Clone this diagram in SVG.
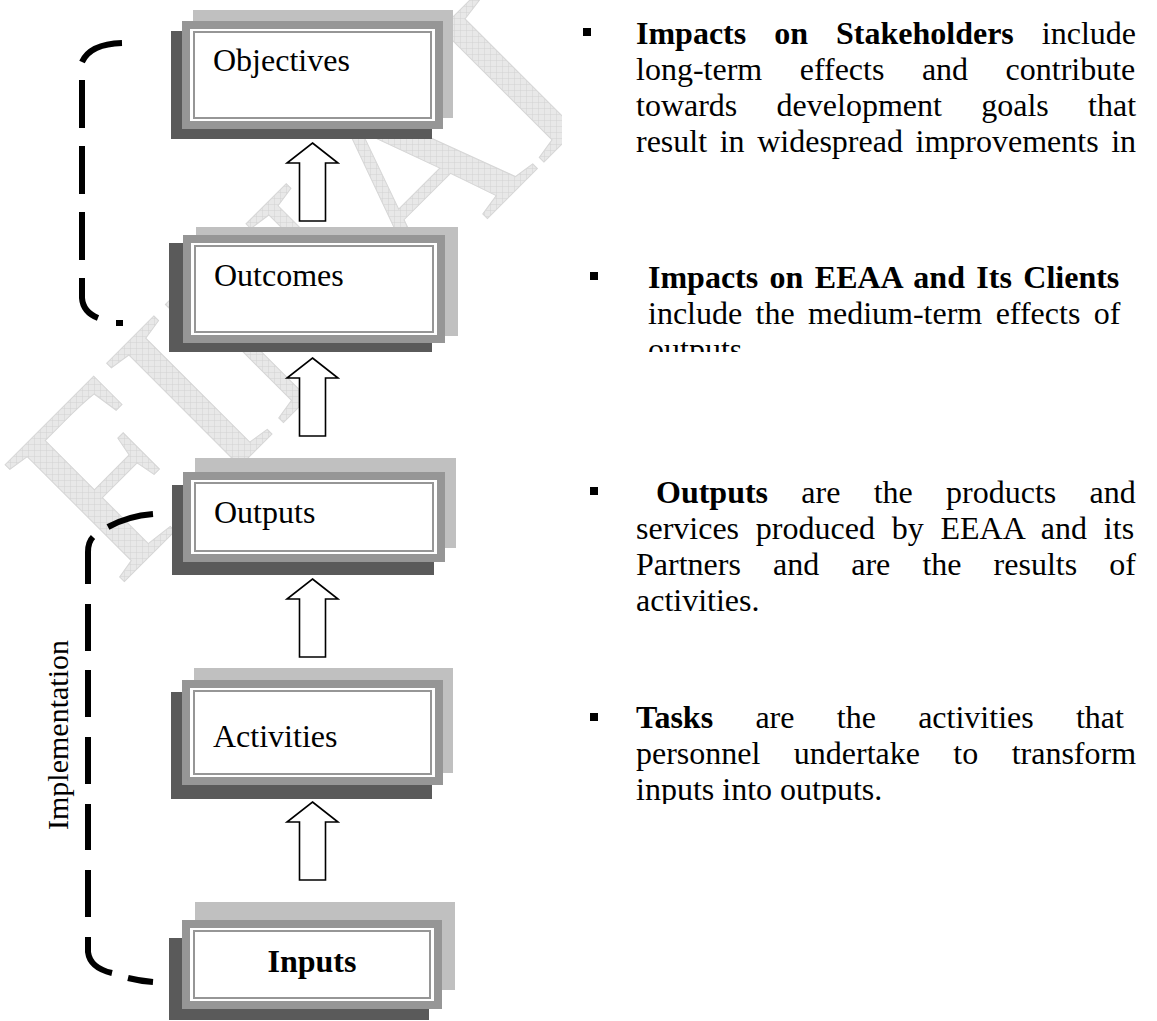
<svg xmlns="http://www.w3.org/2000/svg" width="1157" height="1021" viewBox="0 0 1157 1021">
<defs>
<style>
.lt{fill:#c0c0c0}.md{fill:#969696}.dk{fill:#5a5a5a}.wh{fill:#fff}
.ln{fill:none;stroke:#969696;stroke-width:2}
.lbl{font-family:"Liberation Serif","Times New Roman",serif;font-size:32px;fill:#000}
.body{font-family:"Liberation Serif","Times New Roman",serif;font-size:32px;fill:#000}
.b{font-weight:bold}
.arrow{fill:#fff;stroke:#000;stroke-width:1.6}
.dash{fill:none;stroke:#000;stroke-width:6;stroke-linecap:butt}
.wm{font-family:"Liberation Serif","Times New Roman",serif;font-size:255px;fill:url(#hatch);stroke:#d6d6d6;stroke-width:1}
.bullet{fill:#000}
</style>
<pattern id="hatch" width="6" height="6" patternUnits="userSpaceOnUse" patternTransform="rotate(45)">
<rect width="6" height="6" fill="#e8e8e8"/>
<path d="M0 0H6M0 0V6" stroke="#d2d2d2" stroke-width="1"/>
</pattern>
<clipPath id="wmclip"><rect x="0" y="0" width="562" height="1021"/></clipPath>
<clipPath id="clip2"><rect x="560" y="240" width="597" height="112"/></clipPath>
<clipPath id="clip4"><rect x="560" y="690" width="597" height="114"/></clipPath>
<path id="arrowShape" d="M0,0 L25.5,20 L13,20 L13,78 L-13,78 L-13,20 L-25.5,20 Z"/>
</defs>

<g id="watermark" clip-path="url(#wmclip)">
<text class="wm" transform="translate(118,588) rotate(-45)">FINAL</text>
</g>

<g id="node-objectives">
<rect class="lt" x="193" y="10" width="260" height="108"/>
<rect class="dk" x="171" y="31" width="261" height="108"/>
<rect class="md" x="182" y="21" width="261" height="108"/>
<rect class="wh" x="190" y="29" width="245" height="92"/>
<rect class="ln" x="194" y="32" width="237" height="86"/>
<text class="lbl" x="213" y="71">Objectives</text>
</g>

<g id="node-outcomes">
<rect class="lt" x="196" y="227" width="262" height="109"/>
<rect class="dk" x="169" y="243" width="263" height="109"/>
<rect class="md" x="183" y="235" width="262" height="108"/>
<rect class="wh" x="191" y="243" width="246" height="92"/>
<rect class="ln" x="195" y="246" width="238" height="86"/>
<text class="lbl" x="214" y="286">Outcomes</text>
</g>

<g id="node-outputs">
<rect class="lt" x="195" y="458" width="261" height="90"/>
<rect class="dk" x="172" y="485" width="262" height="90"/>
<rect class="md" x="183" y="472" width="262" height="90"/>
<rect class="wh" x="191" y="480" width="246" height="74"/>
<rect class="ln" x="195" y="483" width="238" height="68"/>
<text class="lbl" x="214" y="523">Outputs</text>
</g>

<g id="node-activities">
<rect class="lt" x="194" y="668" width="259" height="105"/>
<rect class="dk" x="171" y="692" width="261" height="107"/>
<rect class="md" x="182" y="680" width="261" height="105"/>
<rect class="wh" x="190" y="688" width="245" height="89"/>
<rect class="ln" x="194" y="691" width="237" height="83"/>
<text class="lbl" x="213" y="747">Activities</text>
</g>

<g id="node-inputs">
<rect class="lt" x="195" y="902" width="260" height="88"/>
<rect class="dk" x="169" y="938" width="260" height="82"/>
<rect class="md" x="182" y="920" width="260" height="89"/>
<rect class="wh" x="190" y="928" width="244" height="73"/>
<rect class="ln" x="194" y="931" width="236" height="67"/>
<text class="lbl b" x="312" y="972" text-anchor="middle">Inputs</text>
</g>

<g id="connectors">
<use href="#arrowShape" class="arrow" transform="translate(312.5,143)"/>
<use href="#arrowShape" class="arrow" transform="translate(312.5,358)"/>
<use href="#arrowShape" class="arrow" transform="translate(312.5,579)"/>
<use href="#arrowShape" class="arrow" transform="translate(312.5,802)"/>
</g>

<g id="bracket-top">
<path class="dash" d="M122,43 Q90,44 82,62"/>
<path class="dash" d="M82,80 V128 M82,146 V194 M82,212 V260"/>
<path class="dash" d="M82,278 V298 Q83,312 98,318"/>
<rect class="bullet" x="116" y="320" width="7" height="6"/>
</g>

<g id="bracket-implementation">
<path class="dash" d="M153,514 Q128,516 108,527"/>
<path class="dash" d="M93,537 Q88,542 88,552 V584"/>
<path class="dash" d="M88,604 V651 M88,670 V717 M88,737 V784 M88,804 V850 M88,870 V917"/>
<path class="dash" d="M88,937 V952 Q90,968 112,973"/>
<path class="dash" d="M128,978 Q140,981 153,982"/>
<text class="lbl" style="font-size:30px" x="68" y="735" text-anchor="middle" transform="rotate(-90 68 735)">Implementation</text>
</g>

<g id="text-stakeholders">
<rect class="bullet" x="583" y="28" width="8" height="8"/>
<text class="body" x="636" y="44" style="word-spacing:20px"><tspan class="b">Impacts on Stakeholders</tspan> include</text>
<text class="body" x="636" y="80" style="word-spacing:29.5px">long-term effects and contribute</text>
<text class="body" x="636" y="116" style="word-spacing:31.3px">towards development goals that</text>
<text class="body" x="636" y="152" style="word-spacing:4.6px">result in widespread improvements in</text>
</g>

<g id="text-clients">
<rect class="bullet" x="590" y="272" width="8" height="8"/>
<text class="body b" x="648" y="288" style="word-spacing:3.4px">Impacts on EEAA and Its Clients</text>
<text class="body" x="648" y="324" style="word-spacing:5.4px">include the medium-term effects of</text>
<text class="body" x="648" y="360" clip-path="url(#clip2)">outputs</text>
</g>

<g id="text-outputs">
<rect class="bullet" x="590" y="487" width="8" height="8"/>
<text class="body" x="656" y="503" style="word-spacing:25.3px"><tspan class="b">Outputs</tspan> are the products and</text>
<text class="body" x="636" y="539" style="word-spacing:8.8px">services produced by EEAA and its</text>
<text class="body" x="636" y="575" style="word-spacing:24.1px">Partners and are the results of</text>
<text class="body" x="636" y="611">activities.</text>
</g>

<g id="text-tasks">
<rect class="bullet" x="590" y="713" width="8" height="8"/>
<text class="body" x="636" y="728" style="word-spacing:34.3px"><tspan class="b">Tasks</tspan> are the activities that</text>
<text class="body" x="636" y="764" style="word-spacing:25.4px">personnel undertake to transform</text>
<text class="body" x="636" y="800" clip-path="url(#clip4)">inputs into outputs.</text>
</g>
</svg>
